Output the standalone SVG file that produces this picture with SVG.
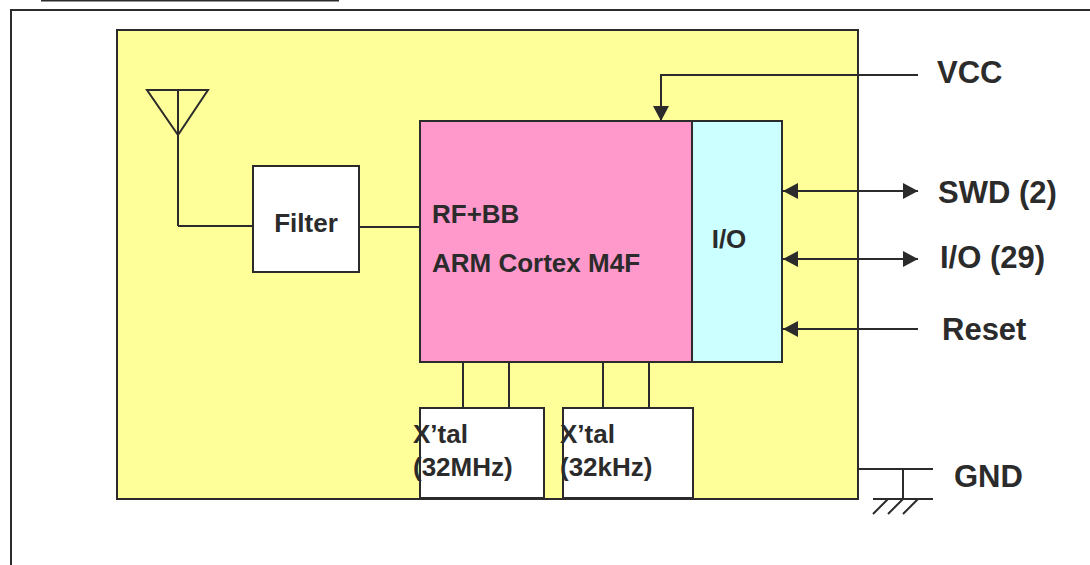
<svg xmlns="http://www.w3.org/2000/svg" width="1090" height="565" viewBox="0 0 1090 565">
<style>
.box{stroke:#2b2b2b;stroke-width:2}
.ln{stroke:#2b2b2b;stroke-width:2;fill:none}
.t{font-family:"Liberation Sans",Arial,sans-serif;font-weight:bold;fill:#2b2b2b}
.in{font-size:26px}
.ex{font-size:31px}
</style>
<defs>
<marker id="ah" viewBox="0 0 15 16" refX="15" refY="8" markerWidth="15" markerHeight="16" markerUnits="userSpaceOnUse" orient="auto-start-reverse">
<path d="M0,0 L15,8 L0,16 Z" fill="#2b2b2b"/>
</marker>
</defs>
<rect width="1090" height="565" fill="#ffffff"/>
<line x1="41" y1="0.5" x2="339" y2="0.5" class="ln" stroke-width="1.5"/>
<path d="M11,565 V10 H1090" class="ln"/>
<g id="module">
<rect x="117" y="30" width="741" height="469" fill="#FFFF99" class="box"/>
</g>
<g id="antenna">
<path d="M147,90 H208 L178,135 Z M178,90 V226" class="ln"/>
</g>
<g id="connectors">
<path d="M178,226 H253" class="ln"/>
<path d="M359,227 H420" class="ln"/>
<path d="M918,75 H661 V121" class="ln" marker-end="url(#ah)"/>
<path d="M783,191 H918" class="ln" marker-start="url(#ah)" marker-end="url(#ah)"/>
<path d="M783,259 H918" class="ln" marker-start="url(#ah)" marker-end="url(#ah)"/>
<path d="M918,329 H783" class="ln" marker-end="url(#ah)"/>
<path d="M463,362 V408 M509,362 V408 M603,362 V408 M649,362 V408" class="ln"/>
<path d="M858,469 H933 M903,469 V499 M873,499 H933 M873,514 L888,499 M888,514 L903,499 M903,514 L918,499" class="ln"/>
</g>
<g id="filter">
<rect x="253" y="166" width="106" height="106" fill="#ffffff" class="box"/>
<text x="306" y="232" text-anchor="middle" class="t in">Filter</text>
</g>
<g id="core">
<rect x="420" y="121" width="272" height="241" fill="#FF99CC" class="box"/>
<text x="432" y="223" class="t in">RF+BB</text>
<text x="432" y="272" class="t in">ARM Cortex M4F</text>
</g>
<g id="io">
<rect x="692" y="121" width="90" height="241" fill="#CCFFFF" class="box"/>
<text x="729" y="248" text-anchor="middle" class="t in">I/O</text>
</g>
<g id="xtal1">
<rect x="420" y="408" width="124" height="90" fill="#ffffff" class="box"/>
<text x="413" y="443" class="t in">X’tal</text>
<text x="413" y="476" class="t in">(32MHz)</text>
</g>
<g id="xtal2">
<rect x="563" y="408" width="130" height="90" fill="#ffffff" class="box"/>
<text x="560" y="443" class="t in">X’tal</text>
<text x="560" y="476" class="t in">(32kHz)</text>
</g>
<g id="labels">
<text x="937" y="83" class="t ex">VCC</text>
<text x="938" y="203" class="t ex">SWD (2)</text>
<text x="940" y="268" class="t ex">I/O (29)</text>
<text x="942" y="340" class="t ex">Reset</text>
<text x="954" y="487" class="t ex">GND</text>
</g>
</svg>
